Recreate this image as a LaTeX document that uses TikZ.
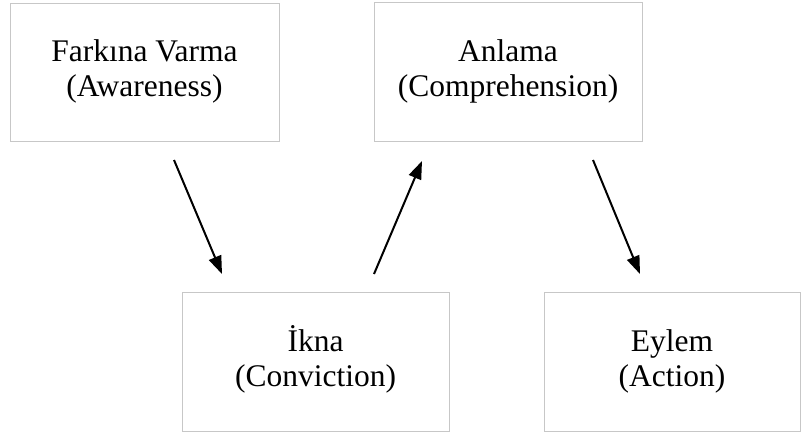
\documentclass[tikz,border=0pt]{standalone}
\usepackage{fontspec}
\setmainfont{Liberation Serif}
\usetikzlibrary{arrows.meta}
\begin{document}
\begin{tikzpicture}[x=1pt,y=-1pt,
  box/.style={draw=black!22, line width=1pt, rectangle, align=center, inner sep=0pt,
    font=\fontsize{31.5}{35}\selectfont},
  arr/.style={line width=2pt, -{Triangle[length=18pt,width=13pt]}}]
\useasboundingbox (0,0) rectangle (802,432);
\node[box, minimum width=269pt, minimum height=138pt] (aw) at (144.5,72) {\strut Farkına Varma\\\strut (Awareness)};
\node[box, minimum width=268pt, minimum height=139pt] (co) at (508,71.5) {\strut Anlama\\\strut (Comprehension)};
\node[box, minimum width=267pt, minimum height=139pt] (ik) at (315.5,361.5) {\strut İkna\\\strut (Conviction)};
\node[box, minimum width=256pt, minimum height=139pt] (ac) at (672,361.5) {\strut Eylem\\\strut (Action)};
\coordinate (a1s) at (174,160);
\coordinate (a1e) at (222,274);
\coordinate (a2s) at (374,274);
\coordinate (a2e) at (422,161);
\coordinate (a3s) at (593,160);
\coordinate (a3e) at (640,274);
\draw[arr] (a1s) -- (a1e);
\draw[arr] (a2s) -- (a2e);
\draw[arr] (a3s) -- (a3e);
\end{tikzpicture}
\end{document}
